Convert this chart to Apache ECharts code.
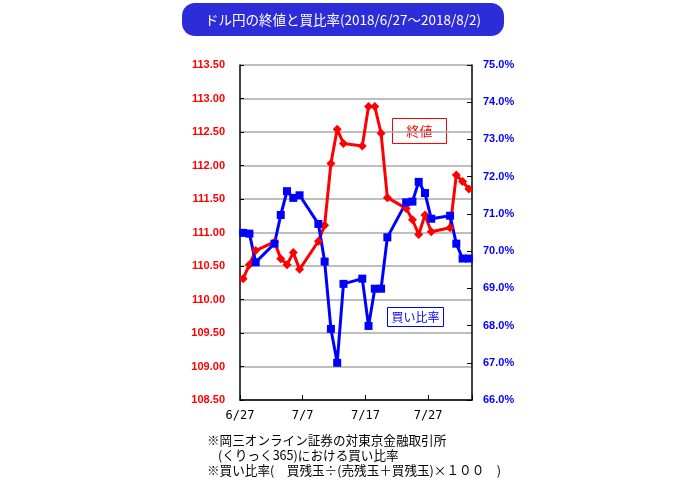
<!DOCTYPE html>
<html>
<head>
<meta charset="utf-8">
<script src="https://cdn.jsdelivr.net/npm/echarts@6/dist/echarts.min.js"></script>
<style>
html,body{margin:0;padding:0;background:#fff;}
#chart{width:700px;height:483px;}
</style>
</head>
<body>
<div id="chart"></div>
<script>
// ---- data ----
const dates = ['6/27','6/28','6/29','7/2','7/3','7/4','7/5','7/6','7/9','7/10','7/11','7/12','7/13',
  '7/16','7/17','7/18','7/19','7/20','7/23','7/24','7/25','7/26','7/27','7/30','7/31','8/1','8/2'];
const closeValues = [110.31,110.52,110.73,110.86,110.61,110.52,110.70,110.45,110.87,111.11,112.03,112.54,112.33,
  112.29,112.88,112.88,112.48,111.52,111.36,111.19,110.97,111.26,111.01,111.07,111.86,111.76,111.65];
const buyRatio = [70.49,70.47,69.70,70.20,70.97,71.61,71.43,71.50,70.73,69.72,67.91,67.00,69.12,
  69.26,67.99,68.99,68.99,70.37,71.31,71.33,71.86,71.56,70.87,70.95,70.20,69.80,69.80];
const xTickLabels = ['6/27','7/7','7/17','7/27'];
const leftTicks = [108.5,109,109.5,110,110.5,111,111.5,112,112.5,113,113.5];
const rightTicks = [66,67,68,69,70,71,72,73,74,75];
const titleText = 'ドル円の終値と買比率(2018/6/27〜2018/8/2)';
const noteLines = ['※岡三オンライン証券の対東京金融取引所', '(くりっく365)における買い比率', '※買い比率(　買残玉÷(売残玉＋買残玉)×１００　)'];

// day index (band centre) from 6/27
function dayPos(s){
  const p = s.split('/');
  const t = Date.UTC(2018, +p[0]-1, +p[1]);
  return (t - Date.UTC(2018,5,27))/86400000 + 0.5;
}
const redData = dates.map((d,i)=>[dayPos(d), closeValues[i]]);
const blueData = dates.map((d,i)=>[dayPos(d), buyRatio[i]]);

const chart = echarts.init(document.getElementById('chart'), null, {renderer:'canvas'});
const numFont = 'Liberation Sans, Arial, sans-serif';
const jpFont = 'Noto Sans CJK JP, sans-serif';

chart.setOption({
  animation:false,
  backgroundColor:'#fff',
  grid:{left:240, right:228, top:65, bottom:83, containLabel:false},
  xAxis:{
    type:'value', min:0, max:37, interval:10,
    axisLine:{show:true, lineStyle:{color:'#000', width:1.5}},
    axisTick:{show:true, inside:true, length:5, lineStyle:{color:'#000'}},
    splitLine:{show:false},
    axisLabel:{
      margin:10, color:'#000', fontSize:12, fontFamily:'DejaVu Sans Mono, monospace',
      formatter:function(v){ const i = Math.round(v/10); return (v%10===0 && i<xTickLabels.length) ? xTickLabels[i] : ''; }
    }
  },
  yAxis:[{
    type:'value', min:leftTicks[0], max:leftTicks[leftTicks.length-1], interval:0.5, position:'left',
    axisLine:{show:true, lineStyle:{color:'#000', width:1.5}},
    axisTick:{show:true, inside:true, length:4, lineStyle:{color:'#000'}},
    splitLine:{show:true, lineStyle:{color:'#a8a8a8', width:1.5}},
    axisLabel:{margin:15, color:'#ff0000', fontSize:11, fontWeight:'bold', fontFamily:numFont,
      formatter:v=>v.toFixed(2)}
  },{
    type:'value', min:rightTicks[0], max:rightTicks[rightTicks.length-1], interval:1, position:'right',
    axisLine:{show:true, lineStyle:{color:'#000', width:1.5}},
    axisTick:{show:true, inside:true, length:5, lineStyle:{color:'#000'}},
    splitLine:{show:false},
    axisLabel:{margin:11, color:'#0000ff', fontSize:11, fontWeight:'bold', fontFamily:numFont,
      formatter:v=>v.toFixed(1)+'%'}
  }],
  series:[{
    name:'終値', type:'line', yAxisIndex:0, data:redData,
    symbol:'diamond', symbolSize:9, showAllSymbol:true,
    lineStyle:{color:'#ff0000', width:3}, itemStyle:{color:'#ff0000'}
  },{
    name:'買い比率', type:'line', yAxisIndex:1, data:blueData,
    symbol:'rect', symbolSize:8, showAllSymbol:true,
    lineStyle:{color:'#0000ff', width:3}, itemStyle:{color:'#0000ff'}
  }],
  graphic:[
    {type:'rect', shape:{x:182, y:3, width:322, height:33, r:13}, style:{fill:'#2c2cd8'}},
    {type:'text', x:343, y:20, style:{text:titleText, fill:'#fff', font:'13.5px '+jpFont, textAlign:'center', textVerticalAlign:'middle'}},
    {type:'rect', shape:{x:392.5, y:118.5, width:54, height:25}, style:{fill:'#fff', stroke:'#ff0000', lineWidth:1}},
    {type:'text', x:419.5, y:131, style:{text:'終値', fill:'#ff0000', font:'13px '+jpFont, textAlign:'center', textVerticalAlign:'middle'}},
    {type:'rect', shape:{x:387.5, y:307.5, width:56, height:19}, style:{fill:'#fff', stroke:'#0000ff', lineWidth:1}},
    {type:'text', x:415.5, y:317, style:{text:'買い比率', fill:'#0000ff', font:'12px '+jpFont, textAlign:'center', textVerticalAlign:'middle'}},
    {type:'text', x:207, y:440, style:{text:noteLines[0], fill:'#000', font:'12.6px '+jpFont, textVerticalAlign:'middle'}},
    {type:'text', x:218, y:455, style:{text:noteLines[1], fill:'#000', font:'12.6px '+jpFont, textVerticalAlign:'middle'}},
    {type:'text', x:207, y:470, style:{text:noteLines[2], fill:'#000', font:'12.6px '+jpFont, textVerticalAlign:'middle'}}
  ]
});
</script>
</body>
</html>
